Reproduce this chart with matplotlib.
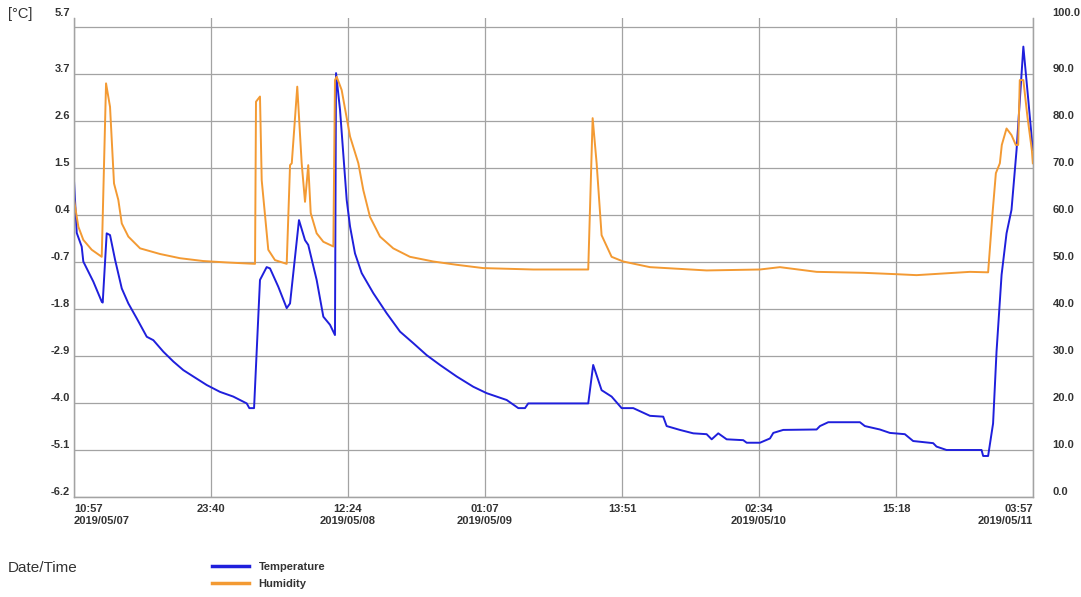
"""Temperature / humidity logger chart, 2019/05/07 - 2019/05/11."""
import matplotlib.pyplot as plt
import numpy as np


# hours since 2019/05/07 10:57
TEMP_HOURS = [
    0.0, 0.25, 0.71, 0.86, 1.79, 2.57, 2.66, 3.03, 3.34, 3.81, 4.43, 5.04,
    5.82, 6.75, 7.36, 8.29, 9.22, 10.14, 11.07, 12.32, 13.55, 14.78, 16.03,
    16.27, 16.71, 17.26, 17.88, 18.19, 18.96, 19.74, 20.05, 20.88, 21.44,
    21.74, 22.52, 23.14, 23.76, 24.22, 24.32, 24.69, 25.31, 25.62, 26.08,
    26.70, 27.78, 29.02, 30.26, 31.49, 32.73, 33.97, 35.52, 37.06, 38.30,
    40.16, 41.24, 41.86, 42.16, 47.73, 48.19, 48.97, 49.90, 50.83, 51.91,
    53.46, 54.69, 55.01, 56.24, 57.48, 58.72, 59.19, 59.80, 60.58, 62.12,
    62.44, 63.67, 64.60, 64.91, 65.83, 68.93, 69.24, 70.01, 72.95, 73.41,
    74.80, 75.73, 77.12, 77.89, 79.75, 80.06, 80.99, 84.24, 84.39, 84.85,
    85.31, 85.63, 86.10, 86.56, 87.02, 87.49, 88.12, 88.58, 89.0,
]
TEMP_VALUES = [
    1.18, -0.02, -0.34, -0.69, -1.16, -1.63, -1.65, -0.03, -0.07, -0.65,
    -1.32, -1.67, -2.02, -2.45, -2.53, -2.80, -3.03, -3.23, -3.38, -3.58,
    -3.74, -3.85, -4.01, -4.12, -4.12, -1.12, -0.82, -0.85, -1.28, -1.78,
    -1.67, 0.28, -0.19, -0.30, -1.12, -1.98, -2.17, -2.41, 3.72, 2.86, 0.75,
    0.13, -0.50, -0.96, -1.43, -1.90, -2.33, -2.60, -2.88, -3.11, -3.38,
    -3.62, -3.77, -3.93, -4.12, -4.12, -4.01, -4.01, -3.11, -3.70, -3.85,
    -4.12, -4.12, -4.30, -4.32, -4.54, -4.63, -4.71, -4.73, -4.85, -4.71,
    -4.85, -4.87, -4.93, -4.93, -4.83, -4.70, -4.63, -4.62, -4.54, -4.45,
    -4.45, -4.54, -4.62, -4.70, -4.73, -4.89, -4.94, -5.02, -5.10, -5.10,
    -5.24, -5.24, -4.48, -2.80, -1.00, -0.03, 0.52, 1.92, 4.34, 3.09, 1.92,
]

HUM_HOURS = [
    0.0, 0.40, 0.86, 1.64, 2.57, 2.97, 3.34, 3.71, 4.11, 4.43, 5.04, 6.13,
    7.98, 9.84, 12.00, 14.17, 16.80, 16.89, 17.26, 17.42, 18.03, 18.65,
    19.74, 20.05, 20.21, 20.72, 21.13, 21.44, 21.74, 21.97, 22.52, 23.14,
    24.07, 24.22, 24.38, 24.84, 25.62, 26.39, 26.85, 27.47, 28.40, 29.63,
    31.18, 33.35, 35.52, 37.98, 42.63, 47.73, 48.14, 48.51, 48.97, 49.90,
    50.98, 53.46, 58.72, 63.67, 65.52, 68.93, 73.26, 76.35, 78.21, 83.16,
    84.85, 85.26, 85.57, 85.94, 86.12, 86.56, 87.02, 87.42, 87.64, 87.79,
    88.12, 88.50, 88.91, 89.0,
]
HUM_VALUES = [
    63.2, 57.5, 54.7, 52.6, 51.1, 88.0, 83.0, 66.7, 63.2, 58.2, 55.4, 52.9,
    51.7, 50.8, 50.2, 49.9, 49.6, 84.1, 85.2, 67.4, 52.6, 50.4, 49.6, 70.6,
    71.0, 87.3, 71.0, 62.8, 70.6, 60.4, 56.1, 54.3, 53.3, 88.7, 89.4, 86.6,
    76.7, 71.0, 65.3, 59.6, 55.4, 52.9, 51.1, 50.1, 49.4, 48.7, 48.4, 48.4,
    80.6, 71.0, 55.7, 51.1, 50.1, 48.9, 48.2, 48.4, 48.9, 47.9, 47.7, 47.4,
    47.2, 47.9, 47.8, 60.4, 68.9, 71.0, 74.9, 78.4, 77.0, 74.9, 74.9, 88.7,
    88.7, 80.9, 73.8, 71.0,
]

X_TICK_LABELS = [
    "10:57\n2019/05/07", "23:40", "12:24\n2019/05/08", "01:07\n2019/05/09",
    "13:51", "02:34\n2019/05/10", "15:18", "03:57\n2019/05/11",
]
TEMP_TICK_LABELS = ["-6.2", "-5.1", "-4.0", "-2.9", "-1.8", "-0.7", "0.4",
                    "1.5", "2.6", "3.7", "5.7"]
HUM_TICK_LABELS = ["0.0", "10.0", "20.0", "30.0", "40.0", "50.0", "60.0",
                   "70.0", "80.0", "90.0", "100.0"]

TEMP_COLOR = "#1f1fdc"
HUM_COLOR = "#f39a33"
GRID_COLOR = "#a3a3a3"
TEXT_COLOR = "#333333"

plt.rcParams["font.family"] = ["Liberation Sans", "DejaVu Sans"]


def main():
    fig = plt.figure(figsize=(10.81, 5.97), dpi=100)
    ax = fig.add_axes([0.0685, 0.1675, 0.8871, 0.8023])
    ax2 = ax.twinx()

    hum_top = 101.9
    temp_top = -6.2 + 0.11 * hum_top
    ax.set_xlim(0, 89)
    ax.set_ylim(-6.2, temp_top)
    ax2.set_ylim(0, hum_top)

    ax.plot(TEMP_HOURS, TEMP_VALUES, color=TEMP_COLOR, lw=1.4, label="Temperature")
    ax2.plot(HUM_HOURS, HUM_VALUES, color=HUM_COLOR, lw=1.4, label="Humidity")

    # x ticks every 12h43m
    xticks = np.arange(len(X_TICK_LABELS)) * 763 / 60
    ax.set_xticks(xticks)
    ax.set_xticklabels(X_TICK_LABELS)
    ax.tick_params(axis="x", length=0, pad=5, labelsize=8, labelcolor=TEXT_COLOR)
    xl = ax.get_xticklabels()
    xl[0].set_ha("left")
    xl[-1].set_ha("right")
    for lbl in xl:
        lbl.set_fontweight("bold")

    # y grid lines on minor ticks, labels on major ticks (top label at frame top)
    ax.yaxis.remove_overlapping_locs = False
    grid_pos = -6.2 + 1.1 * np.arange(11)
    ax.set_yticks(grid_pos, minor=True)
    ax.set_yticks(list(grid_pos[:10]) + [temp_top])
    ax.set_yticklabels(TEMP_TICK_LABELS)
    ax.tick_params(axis="y", which="both", length=0, pad=3, labelsize=8,
                   labelcolor=TEXT_COLOR)
    for lbl in ax.get_yticklabels():
        lbl.set_va("bottom")
        lbl.set_fontweight("bold")

    ax2.set_yticks(list(np.arange(0, 100, 10)) + [hum_top])
    ax2.set_yticklabels(HUM_TICK_LABELS)
    ax2.tick_params(axis="y", length=0, pad=14, labelsize=8, labelcolor=TEXT_COLOR)
    for lbl in ax2.get_yticklabels():
        lbl.set_va("bottom")
        lbl.set_ha("left")
        lbl.set_fontweight("bold")

    ax.grid(True, which="minor", axis="y", color=GRID_COLOR, lw=0.9)
    ax.grid(True, which="major", axis="x", color=GRID_COLOR, lw=0.9)
    for a in (ax, ax2):
        a.spines["top"].set_visible(False)
        for side in ("left", "right", "bottom"):
            a.spines[side].set_color(GRID_COLOR)
            a.spines[side].set_linewidth(0.9)

    fig.text(8 / 1081, 1 - 14 / 597, "[°C]", fontsize=10.5, color=TEXT_COLOR,
             va="center", ha="left")
    fig.text(8 / 1081, 1 - 568 / 597, "Date/Time", fontsize=11, color=TEXT_COLOR,
             va="center", ha="left")

    handles = ax.get_lines() + ax2.get_lines()
    leg = fig.legend(handles, [h.get_label() for h in handles],
                     loc="upper left", bbox_to_anchor=(212 / 1081, 1 - 562 / 597),
                     frameon=False, borderpad=0, borderaxespad=0,
                     handlelength=3.3, handletextpad=0.9, labelspacing=0.65,
                     prop={"size": 8, "weight": "bold"})
    for line in leg.get_lines():
        line.set_linewidth(2.5)
    for txt in leg.get_texts():
        txt.set_color(TEXT_COLOR)

    fig.savefig("out.png", dpi=100)
    plt.close(fig)


if __name__ == "__main__":
    main()
